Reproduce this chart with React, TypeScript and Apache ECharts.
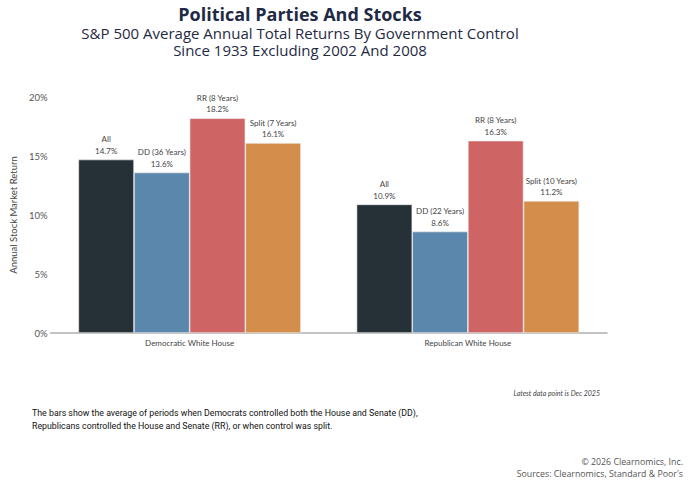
import React, { useEffect, useRef } from "react";
import * as echarts from "echarts";

const categories = ["Democratic White House", "Republican White House"];
const seriesKeys = ["All", "DD", "RR", "Split"];
const allValues = [14.7, 10.9];
const ddValues = [13.6, 8.6];
const rrValues = [18.2, 16.3];
const splitValues = [16.1, 11.2];
const allNames = ["All", "All"];
const ddNames = ["DD (36 Years)", "DD (22 Years)"];
const rrNames = ["RR (8 Years)", "RR (8 Years)"];
const splitNames = ["Split (7 Years)", "Split (10 Years)"];
const yTicks = [0, 5, 10, 15, 20];
const colors = ["#263137", "#5a87ab", "#cf6464", "#d48e4b"];

export default function App() {
  const ref = useRef<HTMLDivElement>(null);
  useEffect(() => {
    if (!ref.current) return;
    const chart = echarts.init(ref.current, null, { renderer: "svg" });
    const valueSets = [allValues, ddValues, rrValues, splitValues];
    const nameSets = [allNames, ddNames, rrNames, splitNames];
    const series = seriesKeys.map((key, s) => ({
      name: key,
      type: "bar",
      barGap: "0%",
      barCategoryGap: "20%",
      itemStyle: { color: colors[s], borderColor: "#f4f4f4", borderWidth: 0.6 },
      label: {
        show: true,
        position: "top",
        distance: 3,
        fontFamily: "Lato",
        fontSize: 8,
        lineHeight: 11.5,
        color: "#444",
        align: "center",
        formatter: (p: any) => `${nameSets[s][p.dataIndex]}\n${valueSets[s][p.dataIndex].toFixed(1)}%`,
      },
      data: valueSets[s],
    }));
    const titleStyle = { textAlign: "center", fontFamily: "Open Sans", fill: "#1f2a44" };
    chart.setOption({
      animation: false,
      backgroundColor: "#ffffff",
      grid: { left: 47, right: 83, top: 97, bottom: 152 },
      xAxis: {
        type: "category",
        data: categories,
        axisLine: { lineStyle: { color: "#b0b0b0", width: 1.5 } },
        axisTick: { show: false },
        axisLabel: { fontFamily: "Lato", fontSize: 8, color: "#444", margin: 6 },
      },
      yAxis: {
        type: "value",
        min: yTicks[0],
        max: yTicks[yTicks.length - 1],
        interval: 5,
        splitLine: { show: false },
        axisLine: { show: false },
        axisTick: { show: false },
        axisLabel: { formatter: "{value}%", fontFamily: "Lato", fontSize: 9.5, color: "#555", margin: 3 },
        name: "Annual Stock Market Return",
        nameLocation: "middle",
        nameRotate: 90,
        nameGap: 18,
        nameTextStyle: { fontFamily: "Lato", fontSize: 9.5, color: "#444" },
      },
      series,
      graphic: [
        {
          type: "text",
          style: {
            ...titleStyle,
            text: "Political Parties And Stocks",
            x: 300,
            y: 5,
            fontWeight: "bold",
            fontSize: 18,
            lineHeight: 18,
          },
        },
        {
          type: "text",
          style: {
            ...titleStyle,
            text: "S&P 500 Average Annual Total Returns By Government Control",
            x: 300,
            y: 25,
            fontSize: 15,
            lineHeight: 16,
          },
        },
        {
          type: "text",
          style: {
            ...titleStyle,
            text: "Since 1933 Excluding 2002 And 2008",
            x: 300,
            y: 42,
            fontSize: 15,
            lineHeight: 16,
          },
        },
        {
          type: "text",
          style: {
            text: "Latest data point is Dec 2025",
            x: 600,
            y: 389,
            textAlign: "right",
            fontFamily: "Lato",
            fontStyle: "italic",
            fontSize: 7,
            fill: "#444",
          },
        },
        {
          type: "text",
          style: {
            text: "The bars show the average of periods when Democrats controlled both the House and Senate (DD),\nRepublicans controlled the House and Senate (RR), or when control was split.",
            x: 32,
            y: 406,
            textAlign: "left",
            fontFamily: "Roboto",
            fontSize: 8.8,
            lineHeight: 13,
            fill: "#111",
          },
        },
        {
          type: "text",
          style: {
            text: "© 2026 Clearnomics, Inc.\nSources: Clearnomics, Standard & Poor's",
            x: 683,
            y: 456,
            textAlign: "right",
            fontFamily: "Open Sans",
            fontSize: 8.8,
            lineHeight: 12,
            fill: "#555",
          },
        },
      ],
    });
    return () => chart.dispose();
  }, []);
  return (
    <div
      ref={ref}
      style={{ position: "fixed", left: 0, top: 0, width: 690, height: 485, background: "#fff" }}
    />
  );
}
